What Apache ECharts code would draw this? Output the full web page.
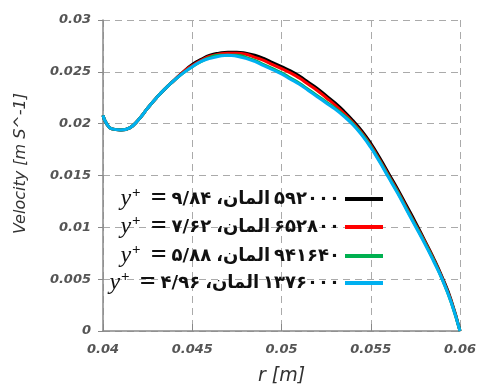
<!DOCTYPE html>
<html>
<head>
<meta charset="utf-8">
<script src="https://cdn.jsdelivr.net/npm/echarts@6/dist/echarts.min.js"></script>
<style>html,body{margin:0;padding:0;background:#fff}#c{width:479px;height:386px}</style>
</head>
<body>
<div id="c"></div>
<script>
const rValues = [0.0400,0.0402,0.0405,0.0410,0.0415,0.0420,0.0425,0.0430,0.0435,0.0440,0.0445,0.0450,0.0455,0.0460,0.0465,0.0470,0.0475,0.0480,0.0485,0.0490,0.0495,0.0500,0.0505,0.0510,0.0515,0.0520,0.0525,0.0530,0.0535,0.0540,0.0545,0.0550,0.0555,0.0560,0.0565,0.0570,0.0575,0.0580,0.0585,0.0590,0.0595,0.0600];
const vMesh592000 = [0.0208,0.0200,0.0195,0.0194,0.0196,0.0204,0.0215,0.0225,0.0234,0.0242,0.0250,0.0257,0.0262,0.0266,0.0268,0.0269,0.0269,0.0268,0.0266,0.0263,0.0259,0.0255,0.0251,0.0246,0.0240,0.0234,0.0227,0.0220,0.0212,0.0203,0.0193,0.0181,0.0167,0.0152,0.0137,0.0121,0.0105,0.0088,0.0071,0.0052,0.0030,0];
const vMesh652800 = [0.0208,0.0200,0.0195,0.0194,0.0196,0.0204,0.0215,0.0225,0.0234,0.0242,0.0250,0.0256,0.0261,0.0265,0.0267,0.0268,0.0268,0.0267,0.0264,0.0261,0.0257,0.0253,0.0249,0.0244,0.0238,0.0232,0.0225,0.0218,0.0210,0.0201,0.0191,0.0179,0.0165,0.0150,0.0135,0.0119,0.0103,0.0087,0.0070,0.0051,0.0029,0];
const vMesh941640 = [0.0208,0.0200,0.0195,0.0194,0.0196,0.0204,0.0215,0.0225,0.0234,0.0242,0.0249,0.0255,0.0260,0.0264,0.0266,0.0266,0.0266,0.0264,0.0261,0.0257,0.0253,0.0249,0.0244,0.0239,0.0233,0.0227,0.0221,0.0215,0.0208,0.0200,0.0190,0.0178,0.0164,0.0149,0.0134,0.0118,0.0102,0.0086,0.0069,0.0050,0.0028,0];
const vMesh1376000 = [0.0208,0.0200,0.0195,0.0194,0.0196,0.0204,0.0215,0.0225,0.0234,0.0242,0.0249,0.0255,0.0260,0.0263,0.0265,0.0266,0.0265,0.0263,0.0260,0.0256,0.0252,0.0248,0.0243,0.0238,0.0232,0.0226,0.0220,0.0214,0.0207,0.0199,0.0189,0.0177,0.0163,0.0148,0.0133,0.0117,0.0101,0.0085,0.0068,0.0050,0.0028,0];
const meshCounts = ['۵۹۲۰۰۰','۶۵۲۸۰۰','۹۴۱۶۴۰','۱۳۷۶۰۰۰'];
const yPlusValues = ['۹/۸۴','۷/۶۲','۵/۸۸','۴/۹۶'];
const seriesColors = ['#000000','#ff0000','#00b050','#00b0f0'];
const xTicks = [0.04,0.045,0.05,0.055,0.06];
const yTicks = [0,0.005,0.01,0.015,0.02,0.025,0.03];

const allValues = [vMesh592000, vMesh652800, vMesh941640, vMesh1376000];
const names = meshCounts.map((m,i) => m + ' المان، y+ = ' + yPlusValues[i]);

const chart = echarts.init(document.getElementById('c'));
const legendTops = [180, 208, 237, 264];
const legends = names.map((n,i) => ({
  data: [n],
  orient: 'vertical',
  right: 91,
  top: legendTops[i],
  align: 'right',
  icon: 'rect',
  itemWidth: 38,
  itemHeight: 4,
  selectedMode: false,
  formatter: () => '{y|y}{sup|+}{eq|=}{d|' + yPlusValues[i] + '}{ar|المان،\u200F}{n|' + meshCounts[i] + '}',
  textStyle: {
    color: '#111',
    rich: {
      y: {fontFamily: 'Liberation Serif', fontStyle: 'italic', fontSize: 24, color: '#111'},
      sup: {fontFamily: 'Liberation Serif', fontSize: 15, fontWeight: 'bold', color: '#111', padding: [0,0,12,1]},
      eq: {fontFamily: 'Liberation Serif', fontSize: 28, fontWeight: 'bold', color: '#111', padding: [0,5,0,10]},
      d: {fontFamily: 'DejaVu Sans', fontSize: 18, fontWeight: 'bold', color: '#111', padding: [0,5,0,0]},
      ar: {fontFamily: 'DejaVu Sans', fontSize: 18, fontWeight: 'bold', color: '#111', padding: [0,4,0,0]},
      n: {fontFamily: 'DejaVu Sans', fontSize: 18, fontWeight: 'bold', color: '#111'}
    }
  }
}));

const labelStyle = {fontFamily: 'DejaVu Sans', fontStyle: 'italic', fontWeight: 'bold', fontSize: 13, color: '#555'};

chart.setOption({
  animation: false,
  grid: {left: 103, right: 19, top: 20, bottom: 55, containLabel: false, outerBoundsMode: 'none'},
  legend: legends,
  xAxis: {
    type: 'value', min: xTicks[0], max: xTicks[xTicks.length-1], interval: 0.005,
    name: 'r [m]', nameLocation: 'middle', nameGap: 36,
    nameTextStyle: {fontFamily: 'DejaVu Sans', fontStyle: 'italic', fontSize: 19, color: '#333'},
    axisLine: {lineStyle: {color: '#888', width: 1.5}},
    axisTick: {show: true, inside: true, length: 7, lineStyle: {color: '#888'}},
    axisLabel: Object.assign({margin: 12, formatter: v => String(+v.toFixed(3))}, labelStyle),
    splitLine: {show: true, lineStyle: {color: '#aaa', type: [7,5], width: 1}}
  },
  yAxis: {
    type: 'value', min: yTicks[0], max: yTicks[yTicks.length-1], interval: 0.005,
    name: 'Velocity [m S^-1]', nameLocation: 'middle', nameGap: 74,
    nameTextStyle: {fontFamily: 'DejaVu Sans', fontStyle: 'italic', fontSize: 16, color: '#333', padding: [0,0,0,24]},
    axisLine: {show: true, lineStyle: {color: '#888', width: 1.5}},
    axisTick: {show: true, length: 5, lineStyle: {color: '#888'}},
    axisLabel: Object.assign({margin: 12, formatter: v => String(+v.toFixed(3))}, labelStyle),
    splitLine: {show: true, lineStyle: {color: '#aaa', type: [7,5], width: 1}}
  },
  series: names.map((n,i) => ({
    name: n, type: 'line', smooth: true, symbol: 'none',
    data: rValues.map((r,k) => [r, allValues[i][k]]),
    lineStyle: {color: seriesColors[i], width: 3},
    itemStyle: {color: seriesColors[i]},
    z: 2 + i
  }))
});
</script>
</body>
</html>
